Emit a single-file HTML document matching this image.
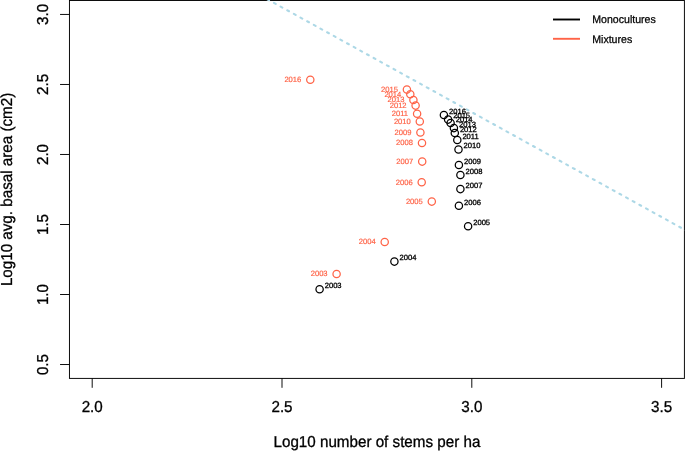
<!DOCTYPE html><html><head><meta charset="utf-8"><title>Self-thinning plot</title>
<style>html,body{margin:0;padding:0;background:#fff;}svg{display:block;}text{font-family:"Liberation Sans",Arial,Helvetica,sans-serif;text-rendering:geometricPrecision;}</style></head><body>
<svg width="685" height="451" viewBox="0 0 685 451">
<rect width="685" height="451" fill="#fff"/>
<rect x="69.45" y="0.5" width="614.95" height="377.90" fill="none" stroke="#000" stroke-width="0.95"/>
<line x1="267.3" y1="-0.75" x2="690" y2="232.71" stroke="#ADD8E6" stroke-width="2.1" stroke-dasharray="2.0 5.59" stroke-linecap="round" fill="none"/>
<line x1="92.20" y1="378.4" x2="92.20" y2="387.80" stroke="#000" stroke-width="0.95"/>
<text transform="translate(92.20,411.65) scale(1,1.04)" font-size="15.2" text-anchor="middle" fill="#000" stroke="#000" stroke-width="0.3">2.0</text>
<line x1="282.00" y1="378.4" x2="282.00" y2="387.80" stroke="#000" stroke-width="0.95"/>
<text transform="translate(282.00,411.65) scale(1,1.04)" font-size="15.2" text-anchor="middle" fill="#000" stroke="#000" stroke-width="0.3">2.5</text>
<line x1="471.80" y1="378.4" x2="471.80" y2="387.80" stroke="#000" stroke-width="0.95"/>
<text transform="translate(471.80,411.65) scale(1,1.04)" font-size="15.2" text-anchor="middle" fill="#000" stroke="#000" stroke-width="0.3">3.0</text>
<line x1="661.60" y1="378.4" x2="661.60" y2="387.80" stroke="#000" stroke-width="0.95"/>
<text transform="translate(661.60,411.65) scale(1,1.04)" font-size="15.2" text-anchor="middle" fill="#000" stroke="#000" stroke-width="0.3">3.5</text>
<line x1="69.45" y1="364.52" x2="60.05" y2="364.52" stroke="#000" stroke-width="0.95"/>
<text transform="translate(47.60,364.52) rotate(-90) scale(1,1.04)" font-size="15.2" text-anchor="middle" fill="#000" stroke="#000" stroke-width="0.3">0.5</text>
<line x1="69.45" y1="294.51" x2="60.05" y2="294.51" stroke="#000" stroke-width="0.95"/>
<text transform="translate(47.60,294.51) rotate(-90) scale(1,1.04)" font-size="15.2" text-anchor="middle" fill="#000" stroke="#000" stroke-width="0.3">1.0</text>
<line x1="69.45" y1="224.50" x2="60.05" y2="224.50" stroke="#000" stroke-width="0.95"/>
<text transform="translate(47.60,224.50) rotate(-90) scale(1,1.04)" font-size="15.2" text-anchor="middle" fill="#000" stroke="#000" stroke-width="0.3">1.5</text>
<line x1="69.45" y1="154.48" x2="60.05" y2="154.48" stroke="#000" stroke-width="0.95"/>
<text transform="translate(47.60,154.48) rotate(-90) scale(1,1.04)" font-size="15.2" text-anchor="middle" fill="#000" stroke="#000" stroke-width="0.3">2.0</text>
<line x1="69.45" y1="84.47" x2="60.05" y2="84.47" stroke="#000" stroke-width="0.95"/>
<text transform="translate(47.60,84.47) rotate(-90) scale(1,1.04)" font-size="15.2" text-anchor="middle" fill="#000" stroke="#000" stroke-width="0.3">2.5</text>
<line x1="69.45" y1="14.45" x2="60.05" y2="14.45" stroke="#000" stroke-width="0.95"/>
<text transform="translate(47.60,14.45) rotate(-90) scale(1,1.04)" font-size="15.2" text-anchor="middle" fill="#000" stroke="#000" stroke-width="0.3">3.0</text>
<text transform="translate(376.93,447.40) scale(1,1.04)" font-size="15.2" text-anchor="middle" fill="#000" stroke="#000" stroke-width="0.3">Log10 number of stems per ha</text>
<text transform="translate(11.60,189.45) rotate(-90) scale(1,1.04)" font-size="15.2" text-anchor="middle" fill="#000" stroke="#000" stroke-width="0.3">Log10 avg. basal area (cm2)</text>
<circle cx="310.3" cy="79.8" r="3.65" fill="none" stroke="#FF6347" stroke-width="1.25"/>
<text transform="translate(301.30,82.10) scale(1,1.0)" font-size="7.6" text-anchor="end" fill="#FF6347" stroke="#FF6347" stroke-width="0.18">2016</text>
<circle cx="406.9" cy="89.6" r="3.65" fill="none" stroke="#FF6347" stroke-width="1.25"/>
<text transform="translate(397.90,91.90) scale(1,1.0)" font-size="7.6" text-anchor="end" fill="#FF6347" stroke="#FF6347" stroke-width="0.18">2015</text>
<circle cx="410.3" cy="94.3" r="3.65" fill="none" stroke="#FF6347" stroke-width="1.25"/>
<text transform="translate(401.30,96.60) scale(1,1.0)" font-size="7.6" text-anchor="end" fill="#FF6347" stroke="#FF6347" stroke-width="0.18">2014</text>
<circle cx="413.4" cy="100.0" r="3.65" fill="none" stroke="#FF6347" stroke-width="1.25"/>
<text transform="translate(404.40,102.30) scale(1,1.0)" font-size="7.6" text-anchor="end" fill="#FF6347" stroke="#FF6347" stroke-width="0.18">2013</text>
<circle cx="415.6" cy="105.6" r="3.65" fill="none" stroke="#FF6347" stroke-width="1.25"/>
<text transform="translate(406.60,107.90) scale(1,1.0)" font-size="7.6" text-anchor="end" fill="#FF6347" stroke="#FF6347" stroke-width="0.18">2012</text>
<circle cx="417.1" cy="113.7" r="3.65" fill="none" stroke="#FF6347" stroke-width="1.25"/>
<text transform="translate(408.10,116.00) scale(1,1.0)" font-size="7.6" text-anchor="end" fill="#FF6347" stroke="#FF6347" stroke-width="0.18">2011</text>
<circle cx="419.8" cy="121.4" r="3.65" fill="none" stroke="#FF6347" stroke-width="1.25"/>
<text transform="translate(410.80,123.70) scale(1,1.0)" font-size="7.6" text-anchor="end" fill="#FF6347" stroke="#FF6347" stroke-width="0.18">2010</text>
<circle cx="420.4" cy="132.4" r="3.65" fill="none" stroke="#FF6347" stroke-width="1.25"/>
<text transform="translate(411.40,134.70) scale(1,1.0)" font-size="7.6" text-anchor="end" fill="#FF6347" stroke="#FF6347" stroke-width="0.18">2009</text>
<circle cx="422.0" cy="143.0" r="3.65" fill="none" stroke="#FF6347" stroke-width="1.25"/>
<text transform="translate(413.00,145.30) scale(1,1.0)" font-size="7.6" text-anchor="end" fill="#FF6347" stroke="#FF6347" stroke-width="0.18">2008</text>
<circle cx="422.2" cy="161.6" r="3.65" fill="none" stroke="#FF6347" stroke-width="1.25"/>
<text transform="translate(413.20,163.90) scale(1,1.0)" font-size="7.6" text-anchor="end" fill="#FF6347" stroke="#FF6347" stroke-width="0.18">2007</text>
<circle cx="421.7" cy="182.2" r="3.65" fill="none" stroke="#FF6347" stroke-width="1.25"/>
<text transform="translate(412.70,184.50) scale(1,1.0)" font-size="7.6" text-anchor="end" fill="#FF6347" stroke="#FF6347" stroke-width="0.18">2006</text>
<circle cx="431.8" cy="201.6" r="3.65" fill="none" stroke="#FF6347" stroke-width="1.25"/>
<text transform="translate(422.80,203.90) scale(1,1.0)" font-size="7.6" text-anchor="end" fill="#FF6347" stroke="#FF6347" stroke-width="0.18">2005</text>
<circle cx="384.7" cy="241.9" r="3.65" fill="none" stroke="#FF6347" stroke-width="1.25"/>
<text transform="translate(375.70,244.20) scale(1,1.0)" font-size="7.6" text-anchor="end" fill="#FF6347" stroke="#FF6347" stroke-width="0.18">2004</text>
<circle cx="336.6" cy="273.9" r="3.65" fill="none" stroke="#FF6347" stroke-width="1.25"/>
<text transform="translate(327.60,276.20) scale(1,1.0)" font-size="7.6" text-anchor="end" fill="#FF6347" stroke="#FF6347" stroke-width="0.18">2003</text>
<circle cx="443.9" cy="114.9" r="3.65" fill="none" stroke="#000" stroke-width="1.25"/>
<text transform="translate(449.00,113.70) scale(1,1.0)" font-size="7.6" fill="#000" stroke="#000" stroke-width="0.3">2016</text>
<circle cx="448.1" cy="119.6" r="3.65" fill="none" stroke="#000" stroke-width="1.25"/>
<text transform="translate(453.20,118.40) scale(1,1.0)" font-size="7.6" fill="#000" stroke="#000" stroke-width="0.3">2015</text>
<circle cx="450.6" cy="123.0" r="3.65" fill="none" stroke="#000" stroke-width="1.25"/>
<text transform="translate(455.70,121.80) scale(1,1.0)" font-size="7.6" fill="#000" stroke="#000" stroke-width="0.3">2014</text>
<circle cx="453.9" cy="128.1" r="3.65" fill="none" stroke="#000" stroke-width="1.25"/>
<text transform="translate(459.00,126.90) scale(1,1.0)" font-size="7.6" fill="#000" stroke="#000" stroke-width="0.3">2013</text>
<circle cx="454.8" cy="133.0" r="3.65" fill="none" stroke="#000" stroke-width="1.25"/>
<text transform="translate(459.90,131.80) scale(1,1.0)" font-size="7.6" fill="#000" stroke="#000" stroke-width="0.3">2012</text>
<circle cx="457.3" cy="139.9" r="3.65" fill="none" stroke="#000" stroke-width="1.25"/>
<text transform="translate(462.40,138.70) scale(1,1.0)" font-size="7.6" fill="#000" stroke="#000" stroke-width="0.3">2011</text>
<circle cx="458.5" cy="149.5" r="3.65" fill="none" stroke="#000" stroke-width="1.25"/>
<text transform="translate(463.60,148.30) scale(1,1.0)" font-size="7.6" fill="#000" stroke="#000" stroke-width="0.3">2010</text>
<circle cx="458.9" cy="164.9" r="3.65" fill="none" stroke="#000" stroke-width="1.25"/>
<text transform="translate(464.00,163.70) scale(1,1.0)" font-size="7.6" fill="#000" stroke="#000" stroke-width="0.3">2009</text>
<circle cx="460.4" cy="174.9" r="3.65" fill="none" stroke="#000" stroke-width="1.25"/>
<text transform="translate(465.50,173.70) scale(1,1.0)" font-size="7.6" fill="#000" stroke="#000" stroke-width="0.3">2008</text>
<circle cx="460.4" cy="189.1" r="3.65" fill="none" stroke="#000" stroke-width="1.25"/>
<text transform="translate(465.50,187.90) scale(1,1.0)" font-size="7.6" fill="#000" stroke="#000" stroke-width="0.3">2007</text>
<circle cx="458.9" cy="205.8" r="3.65" fill="none" stroke="#000" stroke-width="1.25"/>
<text transform="translate(464.00,204.60) scale(1,1.0)" font-size="7.6" fill="#000" stroke="#000" stroke-width="0.3">2006</text>
<circle cx="468.1" cy="226.2" r="3.65" fill="none" stroke="#000" stroke-width="1.25"/>
<text transform="translate(473.20,225.00) scale(1,1.0)" font-size="7.6" fill="#000" stroke="#000" stroke-width="0.3">2005</text>
<circle cx="394.4" cy="261.6" r="3.65" fill="none" stroke="#000" stroke-width="1.25"/>
<text transform="translate(399.50,260.40) scale(1,1.0)" font-size="7.6" fill="#000" stroke="#000" stroke-width="0.3">2004</text>
<circle cx="319.6" cy="289.2" r="3.65" fill="none" stroke="#000" stroke-width="1.25"/>
<text transform="translate(324.70,288.00) scale(1,1.0)" font-size="7.6" fill="#000" stroke="#000" stroke-width="0.3">2003</text>
<line x1="553" y1="19.5" x2="580" y2="19.5" stroke="#000" stroke-width="1.9"/>
<line x1="553" y1="38.8" x2="580" y2="38.8" stroke="#FF6347" stroke-width="1.9"/>
<text transform="translate(592.20,23.40) scale(1,1.04)" font-size="10.6" fill="#000" stroke="#000" stroke-width="0.25">Monocultures</text>
<text transform="translate(592.20,42.70) scale(1,1.04)" font-size="10.6" fill="#000" stroke="#000" stroke-width="0.25">Mixtures</text>
</svg></body></html>
